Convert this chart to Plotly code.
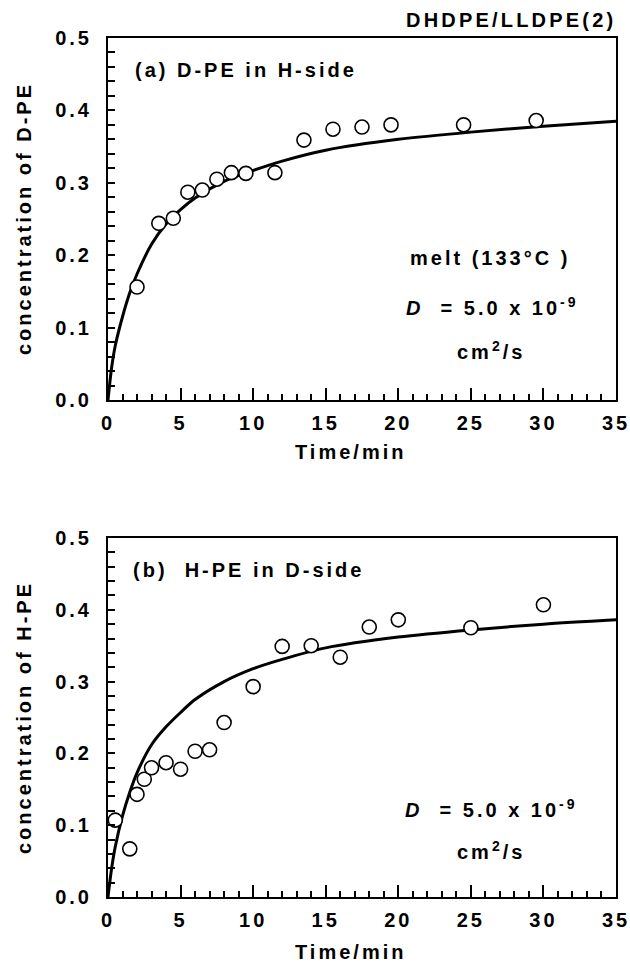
import plotly.graph_objects as go
from plotly.subplots import make_subplots

# ---------------- data ----------------
time_a = [2.0, 3.5, 4.5, 5.5, 6.5, 7.5, 8.5, 9.5, 11.5, 13.5, 15.5, 17.5, 19.5, 24.5, 29.5]
conc_a = [0.156, 0.244, 0.251, 0.287, 0.290, 0.305, 0.314, 0.313, 0.314, 0.359, 0.374, 0.377, 0.380, 0.380, 0.386]

time_b = [0.5, 1.5, 2.0, 2.5, 3.0, 4.0, 5.0, 6.0, 7.0, 8.0, 10.0, 12.0, 14.0, 16.0, 18.0, 20.0, 25.0, 30.0]
conc_b = [0.107, 0.067, 0.143, 0.164, 0.180, 0.187, 0.178, 0.203, 0.205, 0.243, 0.293, 0.349, 0.350, 0.334, 0.376, 0.386, 0.375, 0.407]

fit_time = [0, 0.25, 0.5, 1, 1.5, 2, 3, 4, 5, 6, 8, 10, 12, 15, 20, 25, 30, 35]
fit_conc_a = [0, 0.045, 0.075, 0.115, 0.148, 0.174, 0.215, 0.243, 0.263, 0.279, 0.302, 0.317, 0.330, 0.345, 0.360, 0.370, 0.378, 0.385]
fit_conc_b = [0, 0.040, 0.070, 0.113, 0.146, 0.173, 0.212, 0.237, 0.257, 0.275, 0.300, 0.318, 0.331, 0.347, 0.362, 0.372, 0.380, 0.386]

x_ticks = [0, 5, 10, 15, 20, 25, 30, 35]
y_ticks = [0.0, 0.1, 0.2, 0.3, 0.4, 0.5]

# ---------------- layout helpers ----------------
W, H = 630, 977
ML, MR, MT, MB = 108, 14, 38, 80
PW, PH = W - ML - MR, H - MT - MB


def px(x):
    return (x - ML) / PW


def py(y):
    return (H - MB - y) / PH


def sp(s, ls=3):
    return f'<span style="letter-spacing:{ls}px">{s}</span>'


FONT = "Liberation Sans, Arial, Helvetica, sans-serif"

fig = make_subplots(rows=2, cols=1, vertical_spacing=0.0)

for row, (tt, cc, fc) in enumerate([(time_a, conc_a, fit_conc_a), (time_b, conc_b, fit_conc_b)], start=1):
    fig.add_trace(go.Scatter(x=fit_time, y=fc, mode="lines",
                             line=dict(color="black", width=3, shape="spline", smoothing=0.8),
                             showlegend=False, hoverinfo="skip"), row=row, col=1)
    fig.add_trace(go.Scatter(x=tt, y=cc, mode="markers",
                             marker=dict(symbol="circle", size=14, color="white",
                                         line=dict(color="black", width=1.6)),
                             showlegend=False), row=row, col=1)

xa = dict(range=[0, 35], tickvals=x_ticks, ticktext=[sp(str(v)) for v in x_ticks],
          ticks="inside", ticklen=12, tickwidth=1.5, tickcolor="black",
          minor=dict(dtick=1, ticks="inside", ticklen=6, tickwidth=1.5, tickcolor="black"),
          showline=True, linewidth=2, linecolor="black", mirror=True,
          showgrid=False, zeroline=False, ticklabelstandoff=4,
          ticklabeloverflow="allow", automargin=False,
          tickfont=dict(size=20, color="black", family=FONT, weight="bold"))
ya = dict(range=[0, 0.5], tickvals=y_ticks, ticktext=[sp(f"{v:.1f}") for v in y_ticks],
          ticks="inside", ticklen=7, tickwidth=1.5, tickcolor="black",
          minor=dict(dtick=0.02, ticks="inside", ticklen=7, tickwidth=1.5, tickcolor="black"),
          showline=True, linewidth=2, linecolor="black", mirror=True,
          showgrid=False, zeroline=False, ticklabelstandoff=10,
          ticklabeloverflow="allow", automargin=False,
          tickfont=dict(size=20, color="black", family=FONT, weight="bold"))

fig.update_xaxes(**xa)
fig.update_yaxes(**ya)
fig.update_layout(
    yaxis=dict(domain=[py(400), py(38)]),
    yaxis2=dict(domain=[py(897), py(538)]),
)

ann = []


def A(text, x, y, xanchor="center", size=20, angle=0, yanchor="middle"):
    ann.append(dict(text=text, x=px(x), y=py(y), xref="paper", yref="paper",
                    xanchor=xanchor, yanchor=yanchor, showarrow=False, textangle=angle,
                    font=dict(size=size, color="black", family=FONT, weight="bold")))


A(sp("DHDPE/LLDPE(2)", 3.2), 618, 20, xanchor="right")
A(sp("(a) D-PE in H-side"), 133, 70, xanchor="left")
A(sp("melt (133°C )"), 408, 258, xanchor="left")
A(sp("<i>D</i>  = 5.0 x 10<sup>-9</sup>"), 404, 306, xanchor="left")
A(sp("cm<sup>2</sup>/s"), 491, 350)
A(sp("concentration of D-PE"), 24, 219, angle=-90)
A(sp("Time/min"), 350, 452)

A(sp("(b)  H-PE in D-side"), 131, 570, xanchor="left")
A(sp("<i>D</i>  = 5.0 x 10<sup>-9</sup>"), 403, 808, xanchor="left")
A(sp("cm<sup>2</sup>/s"), 491, 850)
A(sp("concentration of H-PE"), 24, 718, angle=-90)
A(sp("Time/min"), 350, 952)

fig.update_layout(
    width=W, height=H,
    margin=dict(l=ML, r=MR, t=MT, b=MB, autoexpand=False),
    paper_bgcolor="white", plot_bgcolor="white",
    annotations=ann,
    font=dict(family=FONT, color="black"),
)

fig.write_html("out.html")
